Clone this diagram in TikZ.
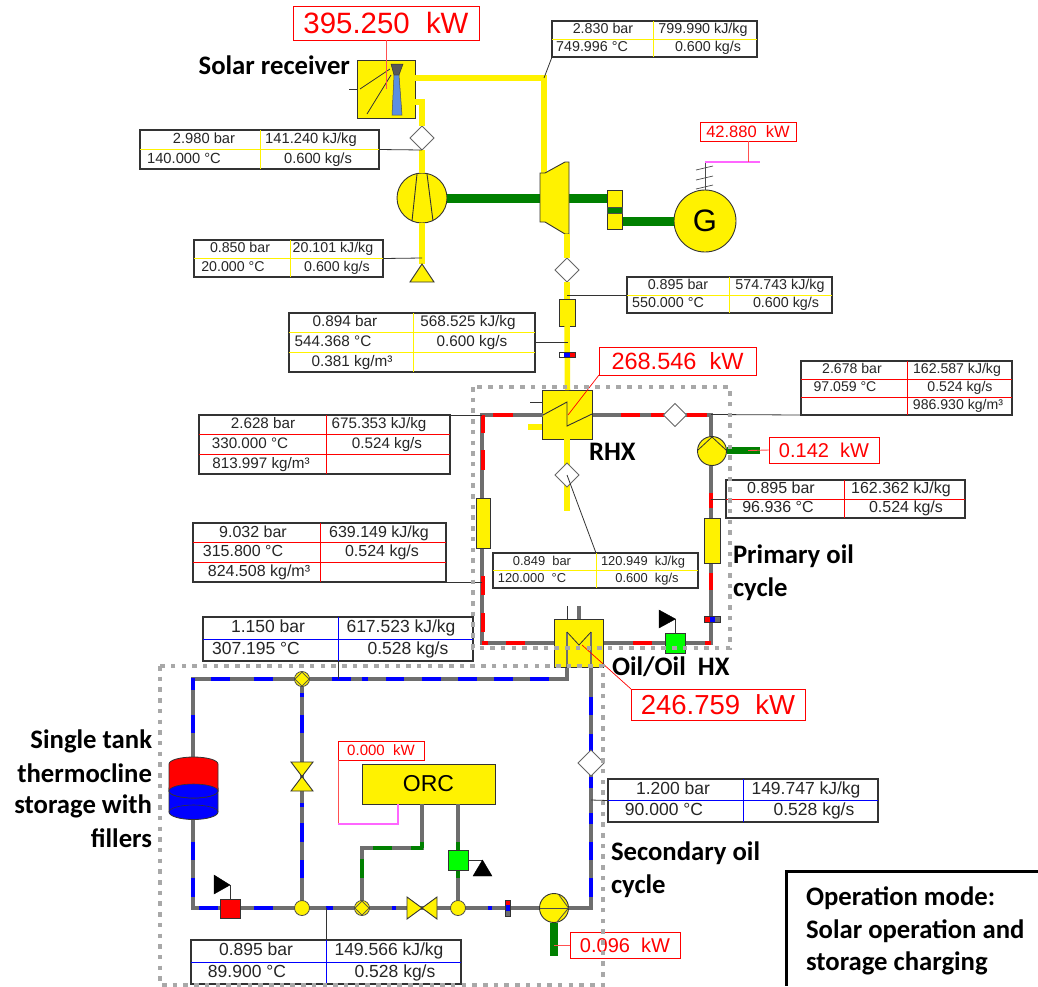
\documentclass[tikz,border=0pt]{standalone}
\usepackage{fontspec}
\usetikzlibrary{shapes.geometric}
\setmainfont{Liberation Sans}
\newfontfamily\lblfont{Carlito}
\definecolor{pgray}{HTML}{6E6E6E}
\definecolor{dotgray}{HTML}{A8A8A8}
\definecolor{dgreen}{HTML}{008000}
\definecolor{bgreen}{HTML}{00FF00}
\definecolor{cblue}{HTML}{0000FF}
\definecolor{lblue}{HTML}{5B8FE0}
\definecolor{pinkl}{HTML}{FF66FF}
\definecolor{pred}{HTML}{FF5050}
\newcommand{\fsz}[1]{\fontsize{#1}{#1}\selectfont}
\tikzset{
 ypipe/.style={draw=yellow,line width=5.5pt},
 gpipe/.style={draw=pgray,line width=4pt},
 rdash/.style={draw=red,line width=4pt},
 bdash/.style={draw=cblue,line width=4pt},
 gdash/.style={draw=dgreen,line width=4pt},
 shaft/.style={draw=dgreen,line width=9pt},
 comp/.style={draw=black!80,fill=yellow,line width=0.9pt,inner sep=0pt,outer sep=0pt},
 probe/.style={draw=black!60,fill=white,diamond,minimum width=24pt,minimum height=24pt,inner sep=0pt,outer sep=0pt,line width=0.9pt},
 lead/.style={draw=black!80,line width=0.8pt},
 rlead/.style={draw=pred,line width=0.9pt},
 pwr/.style={draw=red,fill=white,text=red,line width=0.9pt,inner sep=0pt,outer sep=0pt},
 dots/.style={draw=dotgray,line width=4.5pt,dash pattern=on 4.5pt off 6.2pt},
 lbl/.style={font=\lblfont\bfseries\fsz{26.7},inner sep=0pt,outer sep=0pt,text=black},
 tblframe/.style={draw=black!80,fill=white,line width=1.1pt,inner sep=0pt,outer sep=0pt},
 cellt/.style={inner sep=0pt,outer sep=0pt,text=black!85,font=\fsz{\ts},text height={\ts*0.72pt},text depth={\ts*0.2pt}},
 junc/.style={circle,draw=black!70,fill=yellow,minimum size=15pt,inner sep=0pt,outer sep=0pt,line width=0.8pt},
 vbox/.style={draw=black!80,fill=bgreen,minimum width=20pt,minimum height=20pt,inner sep=0pt,outer sep=0pt,line width=0.8pt},
 blktri/.style={fill=black,draw=black},
}
\newcommand{\hseg}[3]{\foreach \a/\b in {#3}{\draw[#1] (\a,#2) -- (\b,#2);}}
\newcommand{\vseg}[3]{\foreach \a/\b in {#3}{\draw[#1] (#2,\a) -- (#2,\b);}}
% geometry: name x0 y0 x1 y1 xm colour size
\newcommand{\tbl}[8]{\def\tn{#1}\def\xa{#2}\def\ya{#3}\def\xb{#4}\def\yb{#5}\def\xm{#6}\def\tc{#7}\def\ts{#8}%
 \node[tblframe,minimum width={(#4-#2)*1pt},minimum height={(#5-#3)*1pt}] (#1) at ({(#2+#4)/2},{(#3+#5)/2}) {};}
% absolute x centres of the cells
\newcommand{\xs}[6]{\def\ca{#1}\def\cb{#2}\def\cc{#3}\def\cd{#4}\def\ce{#5}\def\cf{#6}}
\newcommand{\twocells}[4]{%
 \pgfmathsetmacro{\ym}{(\ya+\yb)/2}%
 \draw[\tc,line width=0.9pt] (\xa,\ym) -- (\xb,\ym);
 \draw[\tc,line width=0.9pt] (\xm,\ya) -- (\xm,\yb);
 \node[cellt] (\tn a) at (\ca,{(\ya+\ym)/2}) {#1};
 \node[cellt] (\tn b) at (\cb,{(\ya+\ym)/2}) {#2};
 \node[cellt] (\tn c) at (\cc,{(\ym+\yb)/2}) {#3};
 \node[cellt] (\tn d) at (\cd,{(\ym+\yb)/2}) {#4};
}
\newcommand{\threecells}[6]{%
 \pgfmathsetmacro{\yp}{\ya+(\yb-\ya)/3}\pgfmathsetmacro{\yq}{\ya+2*(\yb-\ya)/3}%
 \draw[\tc,line width=0.9pt] (\xa,\yp) -- (\xb,\yp);
 \draw[\tc,line width=0.9pt] (\xa,\yq) -- (\xb,\yq);
 \draw[\tc,line width=0.9pt] (\xm,\ya) -- (\xm,\yb);
 \node[cellt] (\tn a) at (\ca,{(\ya+\yp)/2}) {#1};
 \node[cellt] (\tn b) at (\cb,{(\ya+\yp)/2}) {#2};
 \node[cellt] (\tn c) at (\cc,{(\yp+\yq)/2}) {#3};
 \node[cellt] (\tn d) at (\cd,{(\yp+\yq)/2}) {#4};
 \node[cellt] (\tn e) at (\ce,{(\yq+\yb)/2}) {#5};
 \node[cellt] (\tn f) at (\cf,{(\yq+\yb)/2}) {#6};
}
\begin{document}
\begin{tikzpicture}[x=1pt,y=-1pt]
\useasboundingbox (0,0) rectangle (1038,986);

% ---------- air cycle pipes
\coordinate (c1) at (544,78);
\coordinate (c2) at (422,102);
\node[comp,minimum width=58pt,minimum height=58pt] (rec) at (386,89) {};
\node[probe] (d1) at (422,138) {};
\node[comp,circle,minimum size=50pt] (compr) at (422,198) {};
\coordinate (tri) at (422,264);
\draw[ypipe] (415,78) -- (c1) -- (544,175);
\draw[ypipe] (415,102) -- (c2) -- (d1.north);
\draw[ypipe] (d1.south) -- (compr.north);
\draw[ypipe] (compr.south) -- (tri);
\draw[comp] (410,282) -- (tri) -- (434,282) -- cycle;
% receiver interior
\fill[black!65,draw=black!80,line width=.5pt] (391,64) -- (403,64) -- (399,75) -- (394,75) -- cycle;
\fill[lblue,draw=black!70,line width=.5pt] (394,75) -- (399,75) -- (402,115) -- (392,115) -- cycle;
\draw[line width=.8pt,black!80] (360,89) -- (390,69);
\draw[line width=.8pt,black!80] (367,114) -- (391,75);
\draw[line width=.8pt,black!80] (349,89) -- (357,89);
% compressor interior
\draw[line width=.9pt,black!80] (417,174) -- (412,221);
\draw[line width=.9pt,black!80] (427,174) -- (433,221);
% turbine + shafts
\draw[shaft] (compr.east) -- (540,198);
\draw[shaft] (569,198) -- (607,198);
\draw[comp] (540,173) -- (545,173) -- (565,162) -- (569,162) -- (569,234) -- (565,234) -- (545,222) -- (540,222) -- cycle;
\node[comp,minimum width=15pt,minimum height=39pt] (coup) at (615,210) {};
\fill[dgreen,draw=black!70,line width=.4pt] (607.5,207) rectangle (622,213);
\node[comp,circle,minimum size=62pt,font=\fsz{31}] (gen) at (705,221) {G};
\draw[shaft] (coup.east |- gen.west) -- (gen.west);
% generator hatch
\coordinate (g1) at (705,162);
\draw[line width=.7pt,black!70] (gen.north) -- (g1);
\foreach \yy in {168,178,187}{\draw[line width=.7pt,black!70] (696,\yy+2) -- (713,\yy-2);}
\draw[draw=pinkl,line width=1.3pt] (g1) -- (760,162);
% turbine outlet line
\node[probe] (d2) at (567,270) {};
\node[comp,minimum width=16pt,minimum height=27pt] (he1) at (567,312.5) {};
\node[comp,minimum width=50pt,minimum height=49pt] (rhx) at (567.5,414.5) {};
\draw[ypipe] (567,234) -- (d2.north);
\draw[ypipe] (d2.south) -- (he1.north);
\draw[ypipe] (he1.south) -- (rhx.north);
\draw[ypipe] (567,439) -- (567,511);
\draw[draw=yellow,line width=5.5pt] (528,427) -- (542,427);
\draw[line width=.8pt,black!80] (530,402) -- (542,402);
\node[probe] (d3) at (567,475) {};
% sensor on air line
\fill[white] (559,352) rectangle (564,357);\fill[cblue] (564,352) rectangle (570,357);\fill[red] (570,352) rectangle (575,357);
\draw[black!80,line width=.7pt] (559,352) rectangle (575,357);

% ---------- primary loop
\coordinate (a1) at (482,415);
\coordinate (a2) at (711,415);
\coordinate (a3) at (711,643);
\coordinate (a4) at (482,643);
\draw[gpipe,line join=miter] (rhx.west |- a1) -- (a1) -- (a4) -- (a3) -- (a2) -- (rhx.east |- a2);
\hseg{rdash}{415}{493/513,621/640,651/664,687/707}
\vseg{rdash}{482.5}{415/433,450/470,576/595,613/632}
\hseg{rdash}{643}{482/488,506/525,633/652,705/711}
\vseg{rdash}{711}{493/508,573/590}
\node[probe,minimum width=23pt,minimum height=23pt] (d4) at (675,415) {};
\node[comp,minimum width=14pt,minimum height=50pt] (he2) at (483,523) {};
\node[comp,minimum width=16pt,minimum height=45pt] (he3) at (712,540.5) {};
\draw[draw=dgreen,line width=7pt] (727,450.5) -- (760,450.5);
\node[comp,circle,minimum size=29pt] (pump1) at (712,451) {};
\draw[line width=.8pt,black!80] (698,450) -- (712,437) -- (726,450);
\node[vbox] (v1) at (675,643) {};
\coordinate (t1c) at (675,619);
\draw[line width=.8pt,black!80] (v1.north) -- (t1c);
\fill[blktri] (659,610) -- (675.5,619) -- (659,628) -- cycle;
\fill[red] (704,616) rectangle (710,622);\fill[cblue] (710,616) rectangle (715,622);\fill[pgray] (715,616) rectangle (720,622);
\draw[black!80,line width=.7pt] (704,616) rectangle (720,622);
% RHX interior
\draw[line width=.9pt,black!80] (543,415) -- (567,402) -- (567,426) -- (592,414);

% ---------- secondary loop
\coordinate (b1) at (193,679);
\coordinate (b2) at (193,908);
\coordinate (b3) at (591,908);
\coordinate (b4) at (567,679);
\draw[gpipe,line join=miter] (567,667) -- (b4) -- (b1) -- (b2) -- (b3) -- (591,667);
\draw[gpipe] (302,679) -- (302,908);
\coordinate (e1) at (422,848);
\coordinate (e2) at (362,848);
\node[comp,minimum width=133pt,minimum height=40pt,font=\fsz{23}] (orc) at (428.5,784) {ORC};
\draw[gpipe,line join=miter] (orc.south -| e1) -- (e1) -- (e2) -- (362,908);
\draw[gpipe] (458,804) -- (458,908);
\hseg{bdash}{679}{211/230,254/273,332/351,362/368,386/404,422/441,458/477,494/513,530/549}
\vseg{bdash}{193}{678/690,715/733,842/860,878/897}
\vseg{bdash}{302}{693/697,715/733,803/807,823/842,860/878}
\hseg{bdash}{908}{199/218,254/273,326/333,392/396,488/492}
\vseg{bdash}{591}{697/715,734/752,777/788,813/824,842/860,878/897}
\hseg{gdash}{848}{373/392,411/423}
\vseg{gdash}{422}{842/848}
\vseg{gdash}{362}{859/878}
\vseg{gdash}{458}{842/851,870/878}
% tank
\draw[draw=black!80,fill=cblue,line width=.8pt] (169,788) -- (169,812) arc[start angle=180,end angle=360,x radius=24.5pt,y radius=7.5pt] -- (218,788) -- cycle;
\draw[draw=black!80,fill=red,line width=.8pt] (169,764) arc[start angle=180,end angle=0,x radius=24.5pt,y radius=7pt] -- (218,791) arc[start angle=0,end angle=-180,x radius=24.5pt,y radius=7pt] -- cycle;
\draw[draw=black!80,fill=cblue,line width=.6pt] (193.5,791) ellipse[x radius=24.5pt,y radius=7pt];
\draw[draw=black!80,line width=.6pt] (169,812) arc[start angle=180,end angle=0,x radius=24.5pt,y radius=7pt];
% valves and junctions
\node[draw=black!80,fill=red,minimum width=20pt,minimum height=19pt,inner sep=0pt,outer sep=0pt,line width=.8pt] (v2) at (230,908.5) {};
\coordinate (t2c) at (230,885);
\draw[line width=.8pt,black!80] (v2.north) -- (t2c);
\fill[blktri] (214,875) -- (230,885) -- (214,894) -- cycle;
\node[vbox] (v3) at (458,860.5) {};
\coordinate (t3c) at (482,860);
\draw[line width=.8pt,black!80] (v3.east |- t3c) -- (t3c);
\fill[blktri] (473,876) -- (482.5,860) -- (492,876) -- cycle;
\draw[comp] (291,762) -- (313,762) -- (291,791) -- (313,791) -- cycle;
\draw[comp] (407,897) -- (407,919) -- (437,897) -- (437,919) -- cycle;
\node[junc] (j1) at (302,679) {};
\node[junc] (j2) at (302,908) {};
\node[junc] (j3) at (362,908) {};
\node[junc] (j4) at (458,908) {};
\draw[black!70,line width=.7pt,fill=yellow] (302,672) -- (309,679) -- (302,686) -- (295,679) -- cycle;
\draw[black!70,line width=.7pt,fill=yellow] (362,901) -- (369,908) -- (362,915) -- (355,908) -- cycle;
\fill[red] (505,900) rectangle (510,905);\fill[cblue] (505,905) rectangle (510,911);\fill[pgray] (505,911) rectangle (510,916);
\draw[black!80,line width=.7pt] (505,900) rectangle (510,916);
\draw[draw=dgreen,line width=8pt] (554,923) -- (554,956);
\node[comp,circle,minimum size=29pt] (pump2) at (554,908) {};
\draw[line width=.8pt,black!70] (pump2.west) -- (pump2.east);
\draw[line width=.8pt,black!70] (559,895) -- (pump2.east) -- (557,922);
\node[probe,minimum width=26pt,minimum height=26pt] (d5) at (591,763) {};
% oil/oil HX
\node[comp,minimum width=49pt,minimum height=48pt] (oilhx) at (578.5,643) {};
\draw[line width=.8pt,black!80] (567,606) -- (567,619);
\draw[draw=pgray,line width=3.5pt] (579,606) -- (579,619);
\draw[draw=pgray,line width=1.4pt] (567,632) -- (567,667);
\draw[draw=pgray,line width=1.4pt] (591,632) -- (591,667);
\draw[line width=.8pt,black!80] (567,632) -- (579,645) -- (591,632);

% ---------- state tables
\tbl{t1}{552}{21}{757}{57}{653}{yellow}{14.3}\xs{603}{703}{592}{708}{0}{0}\twocells{2.830~bar}{799.990~kJ/kg}{749.996~°C}{0.600~kg/s}
\tbl{t2}{140}{130}{379}{169}{260}{yellow}{14.7}\xs{204}{311}{184}{318}{0}{0}\twocells{2.980~bar}{141.240~kJ/kg}{140.000~°C}{0.600~kg/s}
\tbl{t3}{194}{240}{383}{277}{290}{yellow}{14.2}\xs{240}{333}{233}{337}{0}{0}\twocells{0.850~bar}{20.101~kJ/kg}{20.000~°C}{0.600~kg/s}
\tbl{t4}{627}{277}{832}{313}{729}{yellow}{14.3}\xs{678}{780}{668}{786}{0}{0}\twocells{0.895~bar}{574.743~kJ/kg}{550.000~°C}{0.600~kg/s}
\tbl{t5}{289}{313}{535}{372}{413}{yellow}{15.3}\xs{345}{468}{333}{472}{352}{0}\threecells{0.894~bar}{568.525~kJ/kg}{544.368~°C}{0.600~kg/s}{0.381~kg/m³}{}
\tbl{t6}{801}{361}{1012}{415}{907}{red}{14.1}\xs{852}{957}{845}{960}{0}{958}\threecells{2.678~bar}{162.587~kJ/kg}{97.059~°C}{0.524~kg/s}{}{986.930~kg/m³}
\tbl{t7}{199}{415}{450}{474}{326}{red}{15.2}\xs{263}{379}{250}{387}{261}{0}\threecells{2.628~bar}{675.353~kJ/kg}{330.000~°C}{0.524~kg/s}{813.997~kg/m³}{}
\tbl{t8}{726}{480}{965}{518}{844}{red}{16}\xs{781}{901}{778}{906}{0}{0}\twocells{0.895~bar}{162.362~kJ/kg}{96.936~°C}{0.524~kg/s}
\tbl{t9}{193}{523}{446}{582}{320}{red}{16}\xs{253}{379}{243}{382}{259}{0}\threecells{9.032~bar}{639.149~kJ/kg}{315.800~°C}{0.524~kg/s}{824.508~kg/m³}{}
\tbl{t10}{493}{553}{698}{588}{596}{yellow}{12.9}\xs{542}{643}{532}{647}{0}{0}\twocells{0.849~~bar}{120.949~~kJ/kg}{120.000~~°C}{0.600~~kg/s}
\tbl{t11}{203}{617}{473}{661}{338}{cblue}{17.5}\xs{268}{401}{256}{408}{0}{0}\twocells{1.150~bar}{617.523~kJ/kg}{307.195~°C}{0.528~kg/s}
\tbl{t12}{608}{779}{878}{822}{743}{cblue}{17.5}\xs{673}{806}{664}{814}{0}{0}\twocells{1.200~bar}{149.747~kJ/kg}{90.000~°C}{0.528~kg/s}
\tbl{t13}{191}{940}{461}{984}{326}{cblue}{17.5}\xs{256}{389}{247}{395}{0}{0}\twocells{0.895~bar}{149.566~kJ/kg}{89.900~°C}{0.528~kg/s}

% ---------- state leaders
\coordinate (l1) at (544,78);
\coordinate (l2) at (422,150);
\coordinate (l3) at (422,258);
\coordinate (l4) at (567,295);
\coordinate (l5a) at (535,342);\coordinate (l5b) at (568,342);
\coordinate (l6) at (711,414.5);
\coordinate (l7a) at (450,415);\coordinate (l7b) at (482,415);
\coordinate (l8) at (711,499);
\coordinate (l9a) at (446,582.5);\coordinate (l9b) at (482,582.5);
\coordinate (l10) at (567,475);
\coordinate (l10a) at (596,553);
\coordinate (l11) at (338,679);
\coordinate (l12) at (591,800);
\coordinate (l13) at (326,908);
\draw[lead] (t1.south west) -- (l1);
\draw[lead] (t2.east) -- (l2);
\draw[lead] (t3.east) -- (l3);
\draw[lead] (t4.west) -- (l4);
\draw[lead] (l5a) -- (l5b);
\draw[lead] (t6.south west) -- (l6);
\draw[lead] (l7a) -- (l7b);
\draw[lead] (t8.west) -- (l8);
\draw[lead] (l9a) -- (l9b);
\draw[lead] (l10a) -- (l10);
\draw[lead] (t11.south -| l11) -- (l11);
\draw[lead] (t12.west) -- (l12);
\draw[lead] (t13.north -| l13) -- (l13);

% ---------- power boxes
\node[pwr,minimum width=186pt,minimum height=34pt,font=\fsz{29.4}] (p1) at (386,23) {395.250~~kW};
\node[pwr,minimum width=96pt,minimum height=19pt,font=\fsz{16.5}] (p2) at (748,131.5) {42.880~~kW};
\node[pwr,minimum width=157pt,minimum height=28pt,font=\fsz{23.5}] (p3) at (677.5,361) {268.546~~kW\hspace{9pt}};
\node[pwr,minimum width=110pt,minimum height=26pt,font=\fsz{20}] (p4) at (824,450) {0.142~~kW\hspace{8pt}};
\node[pwr,minimum width=174pt,minimum height=31pt,font=\fsz{27.5}] (p5) at (718,704.5) {246.759~~kW};
\node[pwr,minimum width=86pt,minimum height=19pt,font=\fsz{15}] (p6) at (381,750.5) {0.000~~kW\hspace{8pt}};
\node[pwr,minimum width=110pt,minimum height=26pt,font=\fsz{20}] (p7) at (625,945) {0.096~~kW\hspace{12pt}};
\coordinate (q1) at (386,89);
\coordinate (q2) at (748,162);
\coordinate (q3) at (568,415);
\coordinate (q4) at (748,450.5);
\coordinate (q5) at (582,645);
\coordinate (q7) at (554,945);
\coordinate (q6a) at (338,824);
\coordinate (q6b) at (398,824);
\draw[rlead] (p1.south -| q1) -- (q1);
\draw[rlead] (p2.south -| q2) -- (q2);
\draw[draw=red,line width=.7pt] (p3.south west) -- (q3);
\draw[rlead] (p4.west) -- (q4);
\draw[draw=red,line width=.7pt] (p5.north west) -- (q5);
\draw[rlead] (p7.west) -- (q7);
\draw[rlead] (p6.south west) -- (q6a);
\draw[draw=pinkl,line width=1.2pt] (q6a) -- (q6b) -- (orc.south -| q6b);

% ---------- dotted frames
\draw[dots] (473,387) rectangle (730,648);
\draw[dots] (160,666) rectangle (603,985);

% ---------- labels
\node[lbl,anchor=east] (n1) at (350,65) {Solar receiver};
\node[lbl,anchor=west] (n2) at (589,452) {RHX};
\node[lbl,anchor=west] (n3) at (733,556) {Primary oil};
\node[lbl,anchor=west] (n4) at (733,589) {cycle};
\node[lbl,anchor=west] (n5) at (612,667) {Oil/Oil~~HX};
\node[lbl,anchor=east] (n6) at (152,741) {Single tank};
\node[lbl,anchor=east] (n7) at (152,773) {thermocline};
\node[lbl,anchor=east] (n8) at (152,806) {storage with};
\node[lbl,anchor=east] (n9) at (152,838) {fillers};
\node[lbl,anchor=west] (n10) at (611,853) {Secondary oil};
\node[lbl,anchor=west] (n11) at (611,886) {cycle};
\draw[black,line width=3pt] (1038,871) -- (786,871) -- (786,986);
\node[lbl,anchor=west] (n12) at (806,898) {Operation mode:};
\node[lbl,anchor=west] (n13) at (806,931) {Solar operation and};
\node[lbl,anchor=west] (n14) at (806,963) {storage charging};
\end{tikzpicture}
\end{document}
